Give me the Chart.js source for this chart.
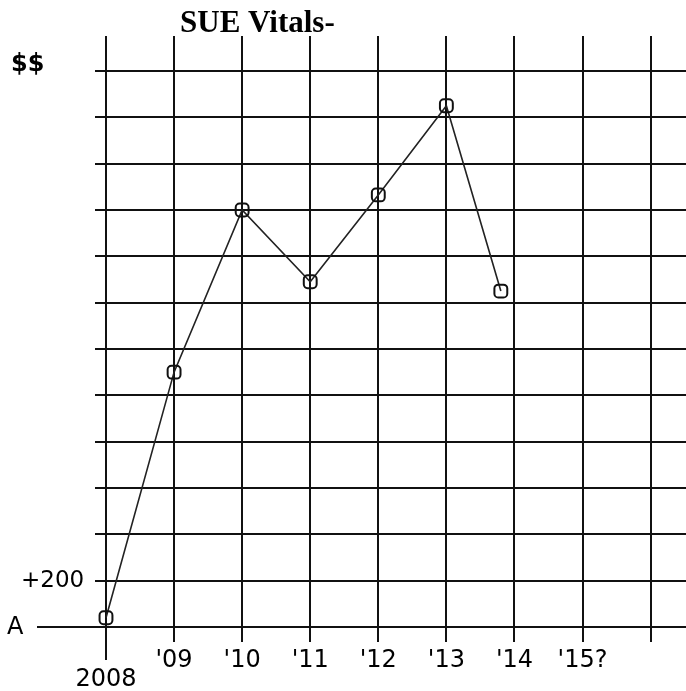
<!DOCTYPE html>
<html>
<head>
<meta charset="utf-8">
<script src="https://cdn.jsdelivr.net/npm/chart.js@4.4.1/dist/chart.umd.min.js"></script>
<style>
  html, body { margin: 0; padding: 0; background: #fff; }
  #wrap { width: 686px; height: 691px; }
</style>
</head>
<body>
<div id="wrap"><canvas id="vitals" width="686" height="691"></canvas></div>
<script>
// values (one grid row = 200)
const years = [2008, 2009, 2010, 2011, 2012, 2013, 2013.8];
const values = [40, 1100, 1800, 1490, 1865, 2250, 1450];

const xTickYears = [2008, 2009, 2010, 2011, 2012, 2013, 2014, 2015, 2016];
const xTickLabels = [['', '2008'], "'09", "'10", "'11", "'12", "'13", "'14", "'15?", ''];

const yLabelValues = [0, 200, 2400];
const yLabels = ['A', '+200', '$$'];

const INK = '#111';
const labelFont = '"DejaVu Sans", sans-serif';

// title, y labels and the longer strokes of the hand drawn grid
const sketchExtras = {
    id: 'sketchExtras',
    afterDraw(chart) {
        const ctx = chart.ctx;
        const xs = chart.scales.x;
        const ys = chart.scales.y;
        ctx.save();

        ctx.fillStyle = '#000';
        ctx.font = 'bold 31px "Liberation Serif", serif';
        ctx.textAlign = 'left';
        ctx.textBaseline = 'alphabetic';
        ctx.fillText('SUE Vitals-', 180, 32);

        ctx.strokeStyle = INK;
        ctx.lineWidth = 2;
        const y0 = Math.round(ys.getPixelForValue(0));
        ctx.beginPath();
        ctx.moveTo(37, y0);
        ctx.lineTo(ys.right - 10, y0);
        const x0 = Math.round(xs.getPixelForValue(2008));
        ctx.moveTo(x0, xs.top + 10);
        ctx.lineTo(x0, xs.top + 33);
        ctx.stroke();

        ctx.textBaseline = 'middle';
        yLabelValues.forEach((v, i) => {
            const y = ys.getPixelForValue(v);
            if (yLabels[i] === '$$') {
                ctx.font = 'bold 24px "DejaVu Sans", sans-serif';
                ctx.fillText(yLabels[i], 11, y - 6);
            } else if (yLabels[i] === 'A') {
                ctx.font = '24px ' + labelFont;
                ctx.fillText(yLabels[i], 7, y + 1);
            } else {
                ctx.font = '23px ' + labelFont;
                ctx.fillText(yLabels[i], 21, y);
            }
        });
        ctx.restore();
    }
};

new Chart(document.getElementById('vitals'), {
    type: 'line',
    data: {
        datasets: [{
            data: years.map((yr, i) => ({ x: yr, y: values[i] })),
            borderColor: '#222',
            borderWidth: 1.6,
            tension: 0,
            clip: false,
            pointStyle: 'rectRounded',
            pointRadius: 7.5,
            pointBorderWidth: 2,
            pointBorderColor: INK,
            pointBackgroundColor: 'rgba(255,255,255,0)'
        }]
    },
    options: {
        responsive: false,
        animation: false,
        layout: { autoPadding: false, padding: { top: 36, left: 0, right: 0, bottom: 0 } },
        plugins: {
            legend: { display: false },
            tooltip: { enabled: false }
        },
        scales: {
            x: {
                type: 'linear',
                min: 2008,
                max: 2016.52,
                border: { display: false },
                grid: { color: INK, lineWidth: 2, tickLength: 15 },
                afterFit: (scale) => {
                    scale.height = 64;
                    scale.paddingLeft = 0;
                    scale.paddingRight = 0;
                },
                ticks: {
                    stepSize: 1,
                    includeBounds: false,
                    autoSkip: false,
                    maxRotation: 0,
                    padding: 10,
                    color: '#000',
                    font: { family: labelFont, size: 24, lineHeight: 0.76 },
                    callback: (v) => {
                        const i = xTickYears.indexOf(v);
                        return i === -1 ? '' : xTickLabels[i];
                    }
                }
            },
            y: {
                min: 0,
                max: 2551,
                border: { display: false },
                grid: { color: INK, lineWidth: 2, tickLength: 11 },
                afterFit: (scale) => {
                    scale.width = 106;
                    scale.paddingTop = 0;
                    scale.paddingBottom = 0;
                },
                ticks: {
                    stepSize: 200,
                    includeBounds: false,
                    display: false
                }
            }
        }
    },
    plugins: [sketchExtras]
});
</script>
</body>
</html>
